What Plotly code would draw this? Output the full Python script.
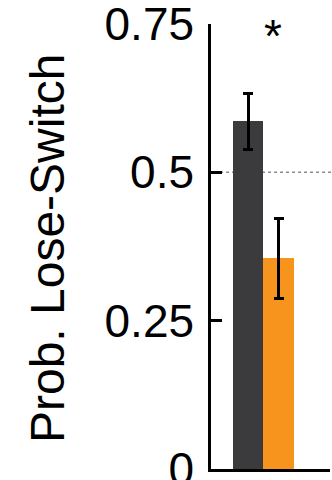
import plotly.graph_objects as go

# Lose-switch probability per group, with error-bar half widths
groups = ["Control", "Treatment"]
prob_lose_switch = [0.586, 0.355]
err = [0.047, 0.067]
bar_colors = ["#3b3b3d", "#f7941d"]

tick_vals = [0, 0.25, 0.5, 0.75]
tick_text = ["0", "0.25", "0.5", "0.75"]
chance_level = 0.5

font_family = "Liberation Sans, Arial, sans-serif"

fig = go.Figure()
fig.add_trace(go.Bar(
    x=groups,
    y=prob_lose_switch,
    width=[1.0, 1.0],
    marker=dict(color=bar_colors, line=dict(width=0)),
    error_y=dict(type="data", array=err, visible=True,
                 color="black", thickness=3, width=5),
    showlegend=False,
))

fig.update_layout(
    width=332, height=480,
    margin=dict(l=211, r=2, t=24, b=11, autoexpand=False),
    paper_bgcolor="white", plot_bgcolor="white",
    font=dict(family=font_family, color="black"),
    bargap=0,
    xaxis=dict(
        type="category", range=[-1.207, 2.674],
        showticklabels=False, ticks="", automargin=False,
        showline=True, linecolor="black", linewidth=2.5,
        showgrid=False, zeroline=False, fixedrange=True,
    ),
    yaxis=dict(
        range=[0, 0.75], tickvals=tick_vals, ticktext=tick_text,
        ticks="inside", ticklen=11, tickwidth=2.5, tickcolor="black",
        tickfont=dict(size=46, family=font_family, color="black"),
        ticklabelstandoff=5, ticklabeloverflow="allow", automargin=False,
        showline=True, linecolor="black", linewidth=2.5,
        showgrid=False, zeroline=False, fixedrange=True,
    ),
)

# Chance-level reference line
fig.add_shape(
    type="line", xref="paper", yref="y",
    x0=0.076, x1=1.02, y0=chance_level, y1=chance_level,
    line=dict(color="#8a8a8a", width=1.5, dash="3px,3px"),
    layer="below",
)

# Axis title
fig.add_annotation(
    text="Prob. Lose-Switch", textangle=-90,
    xref="paper", yref="paper", x=-1.38, y=0.496,
    xanchor="center", yanchor="middle", showarrow=False,
    font=dict(size=48, family=font_family, color="black"),
)

# Significance marker
fig.add_annotation(
    text="*", xref="paper", yref="paper", x=0.52, y=1.035,
    xanchor="center", yanchor="top", showarrow=False,
    font=dict(size=46, family=font_family, color="black"),
)

fig.write_html("out.html")
